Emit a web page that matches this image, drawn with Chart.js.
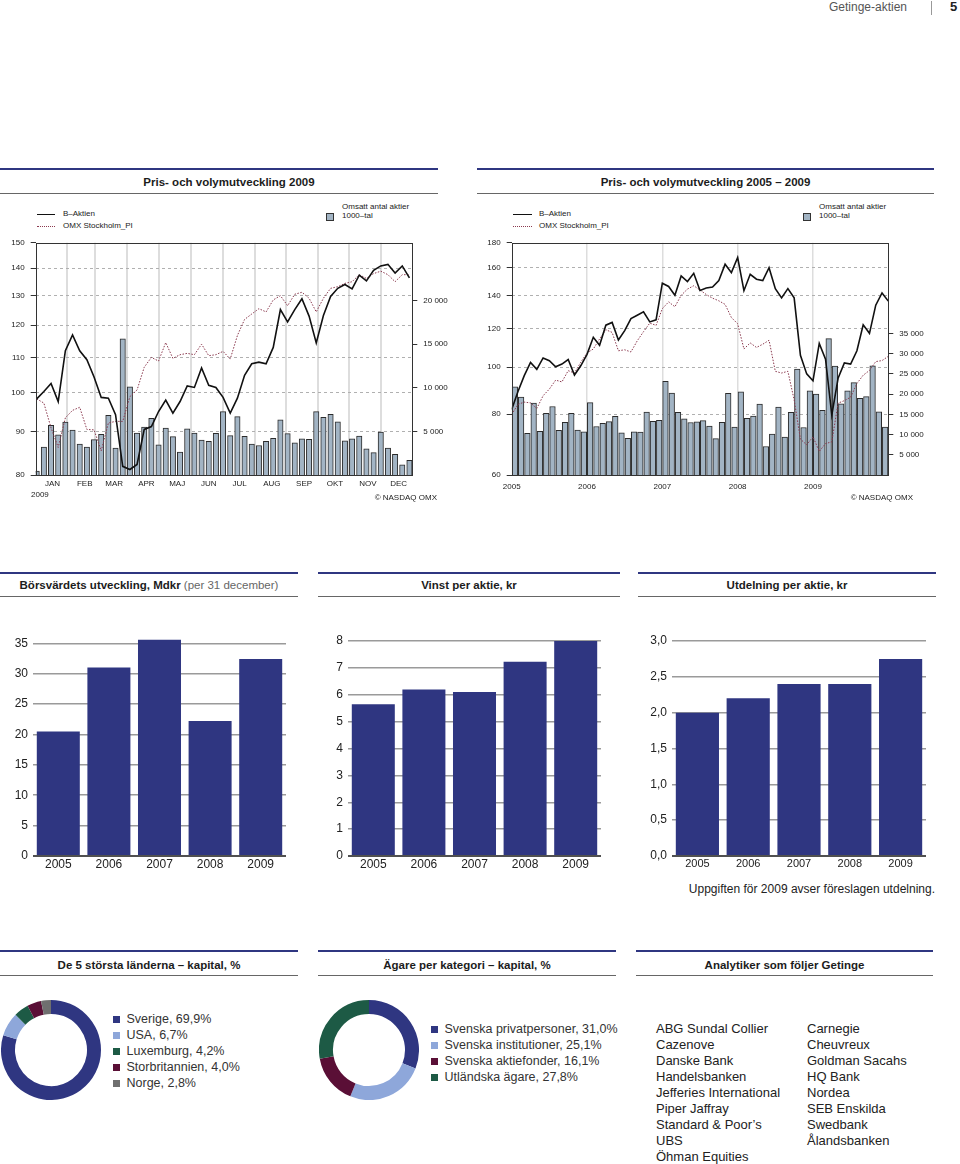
<!DOCTYPE html>
<html lang="sv">
<head>
<meta charset="utf-8">
<title>Getinge-aktien</title>
<script src="https://cdn.jsdelivr.net/npm/chart.js@4.4.1/dist/chart.umd.min.js"></script>
<style>
  body { margin: 0; background: #fff; }
  #page { position: relative; width: 960px; height: 1164px; overflow: hidden; font-family: 'Liberation Sans', Arial, sans-serif; color: #222; }
  #page div, #page canvas { position: absolute; }
  .txt { white-space: nowrap; }
  .blue { height: 2px; background: #2f3681; }
  .grey { height: 1px; background: #666; }
  .head { font-size: 11.5px; line-height: 14px; font-weight: bold; text-align: center; color: #1c1c1c; white-space: nowrap; }
  .small { font-size: 8px; line-height: 10px; white-space: nowrap; color: #222; }
  .leg { font-size: 12.5px; line-height: 16px; color: #333; white-space: nowrap; }
  .sq { width: 7px; height: 7px; }
  .list { font-size: 13px; line-height: 16px; color: #222; white-space: nowrap; }
</style>
</head>
<body>
<div id="page">
  <!-- sidhuvud -->
  <div class="txt" style="left:829px; top:0px; font-size:12px; line-height:14px; color:#555;">Getinge-aktien</div>
  <div style="left:931px; top:1px; width:1px; height:14px; background:#999;"></div>
  <div class="txt" style="left:950px; top:0px; font-size:13px; line-height:14px; font-weight:bold;">5</div>

  <!-- Pris- och volymutveckling 2009 -->
  <div class="blue" style="left:0; top:168px; width:438px;"></div>
  <div class="head" style="left:0; top:175px; width:458px;">Pris- och volymutveckling 2009</div>
  <div class="grey" style="left:0; top:193px; width:438px;"></div>
  <div style="left:37px; top:214px; width:18px; border-top:1.5px solid #111;"></div>
  <div class="small" style="left:63px; top:209px;">B–Aktien</div>
  <div style="left:37px; top:226px; width:18px; border-top:1px dotted #8b3a4f;"></div>
  <div class="small" style="left:63px; top:221px;">OMX Stockholm_PI</div>
  <div class="small" style="left:342px; top:202px;">Omsatt antal aktier</div>
  <div style="left:326px; top:213px; width:6px; height:6px; background:#a2b4c4; border:1px solid #333;"></div>
  <div class="small" style="left:342px; top:211px;">1000–tal</div>
  <canvas id="pris2009" width="452" height="265" style="left:0; top:232px;"></canvas>
  <div class="small" style="left:31px; top:490px;">2009</div>
  <div class="small" style="left:337px; top:493px; width:100px; text-align:right;">© NASDAQ OMX</div>

  <!-- Pris- och volymutveckling 2005 - 2009 -->
  <div class="blue" style="left:477px; top:168px; width:457px;"></div>
  <div class="head" style="left:477px; top:175px; width:457px;">Pris- och volymutveckling 2005 – 2009</div>
  <div class="grey" style="left:477px; top:193px; width:457px;"></div>
  <div style="left:513px; top:214px; width:19px; border-top:1.5px solid #111;"></div>
  <div class="small" style="left:539px; top:209px;">B–Aktien</div>
  <div style="left:513px; top:226px; width:19px; border-top:1px dotted #8b3a4f;"></div>
  <div class="small" style="left:539px; top:221px;">OMX Stockholm_PI</div>
  <div class="small" style="left:819px; top:202px;">Omsatt antal aktier</div>
  <div style="left:803px; top:213px; width:6px; height:6px; background:#a2b4c4; border:1px solid #333;"></div>
  <div class="small" style="left:819px; top:211px;">1000–tal</div>
  <canvas id="pris0509" width="460" height="265" style="left:475px; top:232px;"></canvas>
  <div class="small" style="left:813px; top:493px; width:100px; text-align:right;">© NASDAQ OMX</div>

  <!-- stapeldiagram -->
  <div class="blue" style="left:0; top:572px; width:298px;"></div>
  <div class="head" style="left:0; top:578px; width:298px;">Börsvärdets utveckling, Mdkr <span style="font-weight:normal; color:#666;">(per 31 december)</span></div>
  <div class="grey" style="left:0; top:596px; width:298px;"></div>
  <canvas id="borsvarde" width="290" height="251" style="left:0; top:625px;"></canvas>

  <div class="blue" style="left:318px; top:572px; width:302px;"></div>
  <div class="head" style="left:318px; top:578px; width:302px;">Vinst per aktie, kr</div>
  <div class="grey" style="left:318px; top:596px; width:302px;"></div>
  <canvas id="vinst" width="305" height="251" style="left:300px; top:625px;"></canvas>

  <div class="blue" style="left:638px; top:572px; width:298px;"></div>
  <div class="head" style="left:638px; top:578px; width:298px;">Utdelning per aktie, kr</div>
  <div class="grey" style="left:638px; top:596px; width:298px;"></div>
  <canvas id="utdelning" width="305" height="251" style="left:625px; top:625px;"></canvas>
  <div class="txt" style="left:535px; top:882px; width:400px; text-align:right; font-size:12px; line-height:14px;">Uppgiften för 2009 avser föreslagen utdelning.</div>

  <!-- ägare -->
  <div class="blue" style="left:0; top:950px; width:298px;"></div>
  <div class="head" style="left:0; top:958px; width:298px;">De 5 största länderna – kapital, %</div>
  <div class="grey" style="left:0; top:975px; width:298px;"></div>
  <canvas id="lander" width="100" height="100" style="left:1px; top:1000px;"></canvas>
  <div id="landerLegend"></div>

  <div class="blue" style="left:318px; top:950px; width:298px;"></div>
  <div class="head" style="left:318px; top:958px; width:298px;">Ägare per kategori – kapital, %</div>
  <div class="grey" style="left:318px; top:975px; width:298px;"></div>
  <canvas id="kategori" width="100" height="100" style="left:319px; top:1000px;"></canvas>
  <div id="kategoriLegend"></div>

  <div class="blue" style="left:636px; top:950px; width:297px;"></div>
  <div class="head" style="left:636px; top:958px; width:297px;">Analytiker som följer Getinge</div>
  <div class="grey" style="left:636px; top:975px; width:297px;"></div>
  <div id="analytiker"></div>
</div>

<script>
'use strict';

// ---------------- Data: 2009, vecka for vecka ----------------
var months2009 = ['JAN', 'FEB', 'MAR', 'APR', 'MAJ', 'JUN', 'JUL', 'AUG', 'SEP', 'OKT', 'NOV', 'DEC'];
var monthLabelPos = [2.2, 6.7, 10.8, 15.3, 19.6, 24.0, 28.3, 32.8, 37.3, 41.6, 46.2, 50.5];
var monthGridPos = [4.2, 8.2, 12.6, 17.1, 21.5, 26.0, 30.4, 34.8, 39.2, 43.6, 48.05];
var aktien2009 = [98.3, 100.3, 102.5, 97.6, 112.0, 116.9, 112.0, 109.3, 104.3, 98.7, 98.5, 94.2, 81.9, 81.2, 82.3,
  90.5, 91.2, 95.0, 98.0, 94.6, 97.6, 101.8, 101.4, 106.9, 102.0, 101.4, 98.7, 94.6, 98.5, 104.8, 108.1, 108.6,
  108.1, 113.0, 125.2, 121.1, 125.2, 128.9, 123.0, 114.4, 123.2, 129.7, 132.6, 134.0, 132.4, 137.4, 135.3, 139.2,
  140.9, 141.5, 138.2, 140.9, 136.4];
var omx2009 = [98.3, 97.2, 90.9, 86.2, 93.4, 95.3, 96.1, 90.5, 90.4, 85.4, 92.1, 92.5, 92.5, 98.9, 100.7, 107.1,
  110.0, 108.9, 114.5, 109.7, 110.8, 111.2, 110.8, 114.0, 110.5, 110.8, 111.8, 109.5, 116.7, 121.9, 123.7, 125.5,
  124.4, 128.5, 130.0, 126.5, 130.5, 131.2, 129.1, 124.4, 129.1, 132.6, 133.2, 134.4, 135.0, 137.6, 136.2, 138.0,
  138.9, 137.6, 135.0, 137.6, 137.6];
var volym2009 = [450, 3200, 5700, 4600, 6050, 5150, 3530, 3200, 4060, 4660, 6840, 3080, 15600, 10110, 4810, 5490,
  6500, 3460, 5380, 4400, 2630, 5300, 4810, 3990, 3870, 4770, 7260, 4510, 6690, 4440, 3530, 3380, 3870, 4210, 6320,
  4740, 3680, 4140, 4100, 7260, 6620, 6960, 6090, 3910, 4140, 4470, 3010, 2560, 4930, 3080, 2370, 1170, 1690];
var prisTicks2009 = [80, 90, 100, 110, 120, 130, 140, 150];
var volTicks2009 = [5000, 10000, 15000, 20000];

// ---------------- Data: 2005 - 2009, manad for manad ----------------
var years0509 = ['2005', '2006', '2007', '2008', '2009'];
var aktien0509 = [81.8, 89.1, 96.0, 102.2, 98.9, 104.4, 103.0, 100.1, 101.4, 103.6, 96.3, 100.6, 106.2, 115.1, 110.8,
  121.9, 123.5, 113.7, 118.8, 125.8, 127.8, 129.8, 123.8, 125.0, 148.7, 146.4, 140.4, 153.9, 149.9, 155.8, 143.7,
  145.3, 146.0, 150.6, 162.7, 156.3, 167.9, 143.5, 155.1, 151.5, 150.6, 160.0, 144.9, 138.7, 144.9, 138.7, 105.7,
  96.8, 93.7, 111.8, 103.8, 79.7, 94.8, 102.0, 101.4, 108.0, 122.1, 117.3, 134.0, 142.0, 136.6];
var omx0509 = [79.9, 83.8, 84.7, 84.4, 82.2, 87.3, 90.1, 94.0, 93.2, 98.3, 97.2, 102.3, 106.9, 108.9, 114.2, 119.3,
  117.8, 108.0, 108.5, 107.4, 113.2, 118.2, 123.1, 121.8, 131.8, 136.1, 133.0, 140.4, 144.6, 146.9, 144.0, 140.9,
  138.5, 136.8, 134.5, 126.4, 122.7, 108.9, 112.1, 109.7, 111.4, 113.5, 98.0, 97.2, 98.0, 85.6, 71.1, 69.2, 71.9,
  67.1, 69.6, 70.2, 84.3, 85.3, 86.7, 92.5, 96.2, 98.4, 102.6, 103.1, 105.2];
var volym0509 = [21800, 19290, 10290, 17750, 10780, 15240, 16940, 11020, 13050, 15240, 11100, 10700, 17910, 11990,
  12800, 13210, 14510, 10450, 9080, 10700, 10620, 15560, 13290, 13530, 23180, 20260, 15480, 13860, 12970, 13130,
  13450, 12080, 9000, 13050, 20180, 11830, 20580, 14020, 14590, 17510, 7050, 10130, 16780, 9400, 15480, 26180,
  11750, 20830, 20020, 15970, 33710, 26910, 17590, 20830, 22850, 18960, 19370, 26990, 15640, 11830];
var prisTicks0509 = [60, 80, 100, 120, 140, 160, 180];
var volTicks0509 = [5000, 10000, 15000, 20000, 25000, 30000, 35000];

// ---------------- Data: nyckeltal ----------------
var arLabels = ['2005', '2006', '2007', '2008', '2009'];
var borsvarde = [20.5, 31.0, 35.6, 22.2, 32.4];
var vinstPerAktie = [5.65, 6.2, 6.1, 7.23, 8.0];
var utdelning = [2.0, 2.2, 2.4, 2.4, 2.75];
var borsTicks = [0, 5, 10, 15, 20, 25, 30, 35];
var vinstTicks = [0, 1, 2, 3, 4, 5, 6, 7, 8];
var utdelningTicks = [0, 0.5, 1, 1.5, 2, 2.5, 3];

// ---------------- Data: agare ----------------
var landerNamn = ['Sverige', 'USA', 'Luxemburg', 'Storbritannien', 'Norge'];
var landerAndel = [69.9, 6.7, 4.2, 4.0, 2.8];
var landerFarger = ['#2f3681', '#8ea7da', '#1d5a45', '#5a0f36', '#6f6f6f'];
var kategoriNamn = ['Svenska privatpersoner', 'Svenska institutioner', 'Svenska aktiefonder', 'Utländska ägare'];
var kategoriAndel = [31.0, 25.1, 16.1, 27.8];
var kategoriFarger = ['#2f3681', '#8ea7da', '#5a0f36', '#1d5a45'];
var analytiker1 = ['ABG Sundal Collier', 'Cazenove', 'Danske Bank', 'Handelsbanken', 'Jefferies International',
  'Piper Jaffray', 'Standard & Poor’s', 'UBS', 'Öhman Equities'];
var analytiker2 = ['Carnegie', 'Cheuvreux', 'Goldman Sacahs', 'HQ Bank', 'Nordea', 'SEB Enskilda', 'Swedbank',
  'Ålandsbanken'];

Chart.defaults.font.family = "'Liberation Sans', Arial, sans-serif";
Chart.defaults.color = '#222';
Chart.defaults.animation = false;

// ---------------- helpers ----------------
function toPoints(values, shift) {
  return values.map(function (v, i) {
    return { x: i + shift, y: v };
  });
}

function thousands(v) {
  return String(v).replace(/\B(?=(\d{3})+(?!\d))/g, ' ');
}

function comma(v, dec) {
  return v.toFixed(dec).replace('.', ',');
}

// ram runt ritytan
var boxPlugin = {
  id: 'box',
  afterDraw: function (chart) {
    var a = chart.chartArea;
    var c = chart.ctx;
    c.save();
    c.strokeStyle = '#333';
    c.lineWidth = 1;
    c.strokeRect(Math.round(a.left) + 0.5, Math.round(a.top) + 0.5,
      Math.round(a.right - a.left) - 1, Math.round(a.bottom - a.top));
    c.restore();
  }
};

// ---------------- pris- och volymdiagram ----------------
function drawPriceChart(id, cfg) {
  var ctx = document.getElementById(id).getContext('2d');
  return new Chart(ctx, {
    type: 'line',
    data: {
      datasets: [
        {
          label: 'B–Aktien',
          data: toPoints(cfg.aktie, 0),
          borderColor: '#111',
          borderWidth: 1.6,
          pointRadius: 0,
          yAxisID: 'y',
          order: 1
        },
        {
          label: 'OMX Stockholm_PI',
          data: toPoints(cfg.omx, 0),
          borderColor: '#8b3a4f',
          borderWidth: 1,
          borderDash: [1.5, 1.5],
          pointRadius: 0,
          yAxisID: 'y',
          order: 2
        },
        {
          type: 'bar',
          label: 'Omsatt antal aktier',
          data: toPoints(cfg.volym, cfg.barShift),
          backgroundColor: '#a2b4c4',
          borderColor: '#2b2b2b',
          borderWidth: 1,
          barThickness: cfg.barWidth,
          yAxisID: 'yv',
          order: 3
        }
      ]
    },
    options: {
      responsive: false,
      events: [],
      layout: { padding: { top: 7 } },
      plugins: { legend: { display: false }, tooltip: { enabled: false } },
      scales: {
        x: {
          type: 'linear',
          min: cfg.xMin,
          max: cfg.xMax,
          offset: false,
          afterBuildTicks: function (s) {
            s.ticks = cfg.xTicks.map(function (t) { return { value: t.v }; });
          },
          ticks: {
            autoSkip: false,
            maxRotation: 0,
            padding: cfg.xPad,
            font: { size: 8 },
            callback: function (v, i) { return cfg.xTicks[i] ? cfg.xTicks[i].label : ''; }
          },
          grid: {
            offset: false,
            drawTicks: false,
            lineWidth: cfg.vGridWidth,
            color: function (c) {
              var t = cfg.xTicks[c.index];
              return t && t.grid ? '#dddddd' : 'rgba(0,0,0,0)';
            }
          },
          border: { display: false },
          afterFit: function (s) { s.height = 22; }
        },
        y: {
          type: 'logarithmic',
          position: 'left',
          min: cfg.yTicks[0],
          max: cfg.yTicks[cfg.yTicks.length - 1],
          afterBuildTicks: function (s) {
            s.ticks = cfg.yTicks.map(function (v) { return { value: v }; });
          },
          ticks: { font: { size: 8 }, padding: 6, callback: function (v) { return String(v); } },
          grid: {
            tickLength: 5,
            tickColor: '#333',
            color: function (c) {
              var v = c.tick ? c.tick.value : 0;
              return (v === cfg.yTicks[0] || v === cfg.yTicks[cfg.yTicks.length - 1]) ? 'rgba(0,0,0,0)' : '#b0b0b0';
            }
          },
          border: { display: false, dash: [3, 3] },
          afterFit: function (s) { s.width = cfg.leftW; }
        },
        yv: {
          type: 'linear',
          position: 'right',
          min: 0,
          max: cfg.vMax,
          afterBuildTicks: function (s) {
            s.ticks = cfg.vTicks.map(function (v) { return { value: v }; });
          },
          ticks: { font: { size: 8 }, padding: 6, callback: thousands },
          grid: { drawOnChartArea: false, tickLength: 5, tickColor: '#333' },
          border: { display: false },
          afterFit: function (s) { s.width = cfg.rightW; }
        }
      }
    },
    plugins: [boxPlugin]
  });
}

var xTicks2009 = [];
monthGridPos.forEach(function (p) { xTicks2009.push({ v: p, label: '', grid: true }); });
months2009.forEach(function (m, i) { xTicks2009.push({ v: monthLabelPos[i], label: m, grid: false }); });
xTicks2009.sort(function (a, b) { return a.v - b.v; });

var xTicks0509 = years0509.map(function (y, i) {
  return { v: i * 12, label: y, grid: i > 0 };
});

drawPriceChart('pris2009', {
  aktie: aktien2009, omx: omx2009, volym: volym2009,
  barShift: 0, barWidth: 5.4,
  xMin: -0.14, xMax: 52.4, xTicks: xTicks2009, xPad: 4, vGridWidth: 2,
  yTicks: prisTicks2009, vTicks: volTicks2009, vMax: 26600,
  leftW: 35.7, rightW: 39.7
});

drawPriceChart('pris0509', {
  aktie: aktien0509, omx: omx0509, volym: volym0509,
  barShift: 0.5, barWidth: 5.6,
  xMin: 0, xMax: 60, xTicks: xTicks0509, xPad: 7, vGridWidth: 1.5,
  yTicks: prisTicks0509, vTicks: volTicks0509, vMax: 57400,
  leftW: 36.7, rightW: 46.7
});

// ---------------- nyckeltal, staplar ----------------
function drawBarChart(id, values, cfg) {
  var ctx = document.getElementById(id).getContext('2d');
  return new Chart(ctx, {
    type: 'bar',
    data: {
      labels: arLabels,
      datasets: [{
        data: values,
        backgroundColor: '#2f3681',
        borderWidth: 0,
        barPercentage: 0.85,
        categoryPercentage: 1
      }]
    },
    options: {
      responsive: false,
      events: [],
      layout: { padding: { top: cfg.padTop, right: 4 } },
      plugins: { legend: { display: false }, tooltip: { enabled: false } },
      scales: {
        x: {
          ticks: { font: { size: cfg.xFont }, padding: 1 },
          grid: { display: false, drawTicks: false },
          border: { display: false },
          afterFit: function (s) { s.height = 20; }
        },
        y: {
          min: 0,
          max: cfg.max,
          afterBuildTicks: function (s) {
            s.ticks = cfg.ticks.map(function (v) { return { value: v }; });
          },
          ticks: { font: { size: 12 }, padding: 5, callback: cfg.fmt },
          grid: {
            drawTicks: false,
            color: function (c) { return c.tick && c.tick.value === 0 ? '#505050' : '#9a9a9a'; },
            lineWidth: function (c) { return c.tick && c.tick.value === 0 ? 2 : 1.5; }
          },
          border: { display: false },
          afterFit: function (s) { s.width = cfg.leftW; }
        }
      }
    }
  });
}

drawBarChart('borsvarde', borsvarde, {
  max: 36, ticks: borsTicks, padTop: 9.9, leftW: 33, xFont: 12,
  fmt: function (v) { return String(v); }
});
drawBarChart('vinst', vinstPerAktie, {
  max: 8, ticks: vinstTicks, padTop: 16, leftW: 48, xFont: 12,
  fmt: function (v) { return String(v); }
});
drawBarChart('utdelning', utdelning, {
  max: 3, ticks: utdelningTicks, padTop: 16, leftW: 47, xFont: 11,
  fmt: function (v) { return comma(v, 1); }
});

// ---------------- agare, ringdiagram ----------------
function drawRing(id, names, values, colors) {
  var ctx = document.getElementById(id).getContext('2d');
  return new Chart(ctx, {
    type: 'doughnut',
    data: {
      labels: names,
      datasets: [{ data: values, backgroundColor: colors, borderWidth: 0 }]
    },
    options: {
      responsive: false,
      events: [],
      cutout: '72%',
      plugins: { legend: { display: false }, tooltip: { enabled: false } }
    }
  });
}

function buildLegend(elId, names, values, colors, left, top) {
  var box = document.getElementById(elId);
  var html = '';
  for (var i = 0; i < names.length; i++) {
    var y = top + i * 16;
    html += '<div class="sq" style="left:' + left + 'px; top:' + (y + 4.5) + 'px; background:' + colors[i] + ';"></div>';
    html += '<div class="leg" style="left:' + (left + 13.5) + 'px; top:' + y + 'px;">' +
      names[i] + ', ' + comma(values[i], 1) + '%</div>';
  }
  box.innerHTML = html;
}

drawRing('lander', landerNamn, landerAndel, landerFarger);
drawRing('kategori', kategoriNamn, kategoriAndel, kategoriFarger);
buildLegend('landerLegend', landerNamn, landerAndel, landerFarger, 113, 1011);
buildLegend('kategoriLegend', kategoriNamn, kategoriAndel, kategoriFarger, 431, 1021);

// ---------------- analytiker ----------------
function buildList(names, left) {
  var html = '';
  for (var i = 0; i < names.length; i++) {
    html += '<div class="list" style="left:' + left + 'px; top:' + (1021 + i * 16) + 'px;">' +
      names[i].replace('&', '&amp;') + '</div>';
  }
  return html;
}
document.getElementById('analytiker').innerHTML = buildList(analytiker1, 656) + buildList(analytiker2, 807);
</script>
</body>
</html>
